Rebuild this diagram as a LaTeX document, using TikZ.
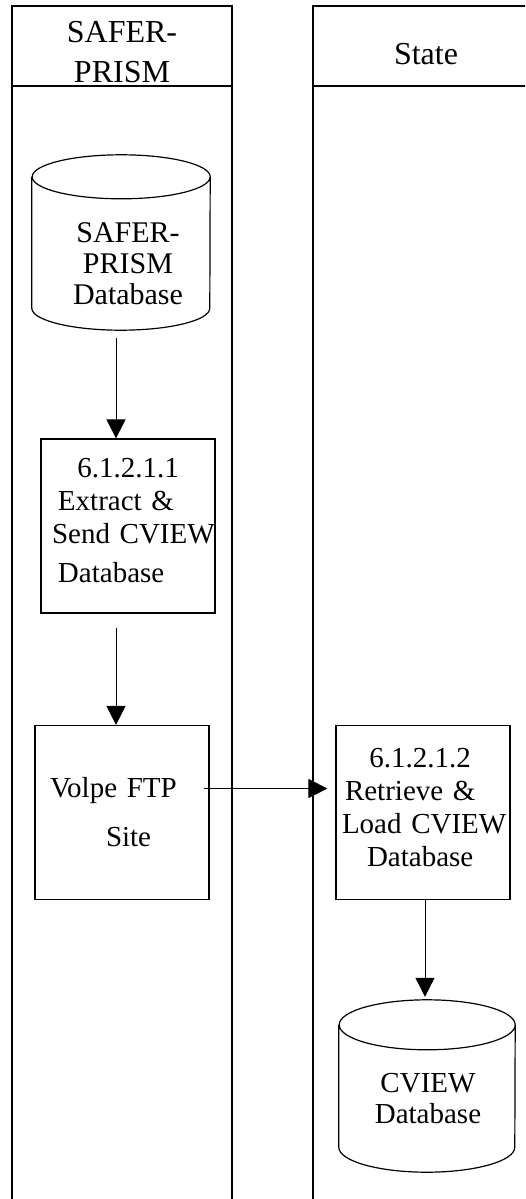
\documentclass[tikz,border=0pt]{standalone}
\usepackage{fontspec}
\setmainfont{Liberation Serif}
\usetikzlibrary{arrows.meta}

\begin{document}
\begin{tikzpicture}[x=1pt, y=-1pt,
	every node/.style = {font=\fontsize{29pt}{33pt}\selectfont},
	lane/.style = {draw, line width=1.6pt},
	proc/.style = {draw, line width=1.2pt, minimum width=174pt, minimum height=174pt,
		text width=166pt, inner xsep=4pt, align=left},
	store/.style = {inner sep=0pt},
	heading/.style = {inner sep=0pt, align=center},
	flow/.style = {-{Triangle[length=19pt, width=19pt]}, line width=1pt}]
	\useasboundingbox (0,0) rectangle (525,1199);
	\clip (0,0) rectangle (525,1199);
	% swim lanes
	\draw[lane] (12,6) rectangle (232,1210);
	\draw[lane] (12,86) -- (232,86);
	\draw[lane] (313,6) rectangle (540,1210);
	\draw[lane] (313,86) -- (540,86);
	\node (lanesafer) at (122,52.5) [heading, font=\fontsize{32pt}{40pt}\selectfont] {SAFER-\\PRISM};
	\node (lanestate) at (426,54.5) [heading, font=\fontsize{32pt}{40pt}\selectfont] {State};
	% data stores
	\node (dbA) at (121,242.5) [store, minimum width=178pt, minimum height=175pt] {};
	\draw[line width=1.2pt] ([yshift=-22pt]dbA.north west) -- ([yshift=22pt]dbA.south west)
		arc[start angle=180, end angle=360, x radius=89pt, y radius=22pt]
		-- ([yshift=-22pt]dbA.north east)
		arc[start angle=0, end angle=180, x radius=89pt, y radius=22pt]
		arc[start angle=180, end angle=360, x radius=89pt, y radius=22pt];
	\node (dbAtext) at (128,264) [heading, font=\fontsize{30pt}{31pt}\selectfont] {SAFER-\\PRISM\\Database};
	\node (dbB) at (427,1086) [store, minimum width=176pt, minimum height=172pt] {};
	\draw[line width=1.2pt] ([yshift=-25pt]dbB.north west) -- ([yshift=25pt]dbB.south west)
		arc[start angle=180, end angle=360, x radius=88pt, y radius=25pt]
		-- ([yshift=-25pt]dbB.north east)
		arc[start angle=0, end angle=180, x radius=88pt, y radius=25pt]
		arc[start angle=180, end angle=360, x radius=88pt, y radius=25pt];
	\node (dbBtext) at (428,1099) [heading, font=\fontsize{29pt}{31pt}\selectfont] {CVIEW\\Database};
	% processes
	\node (extract) at (128,526) [proc] {\makebox[166pt]{6.1.2.1.1}\\
		\hspace*{13pt}Extract \&\\ \hspace*{7pt}Send~CVIEW\\[6pt] \hspace*{13pt}Database\rule[-11pt]{0pt}{11pt}};
	\node (ftp) at (122,812.5) [proc] {\hspace*{11pt}Volpe~FTP\\[16pt] \hspace*{67pt}Site};
	\node (retrieve) at (423,812.5) [proc] {\makebox[160pt]{6.1.2.1.2}\\
		\hspace*{5pt}Retrieve \&\\ \hspace*{2pt}Load~CVIEW\\ \hspace*{27pt}Database\rule[-10pt]{0pt}{10pt}};
	% flows
	\draw[flow] ([xshift=-5pt, yshift=-8pt]dbA.south) -- ([xshift=-12pt]extract.north);
	\draw[flow] ([xshift=-12pt, yshift=-14pt]extract.south) -- ([xshift=-6pt]ftp.north);
	\draw[flow] ([xshift=-6pt, yshift=24pt]ftp.east) -- ([xshift=-8pt, yshift=24pt]retrieve.west);
	\draw[flow] ([xshift=2pt]retrieve.south) -- ([xshift=-2pt, yshift=3pt]dbB.north);
\end{tikzpicture}
\end{document}
